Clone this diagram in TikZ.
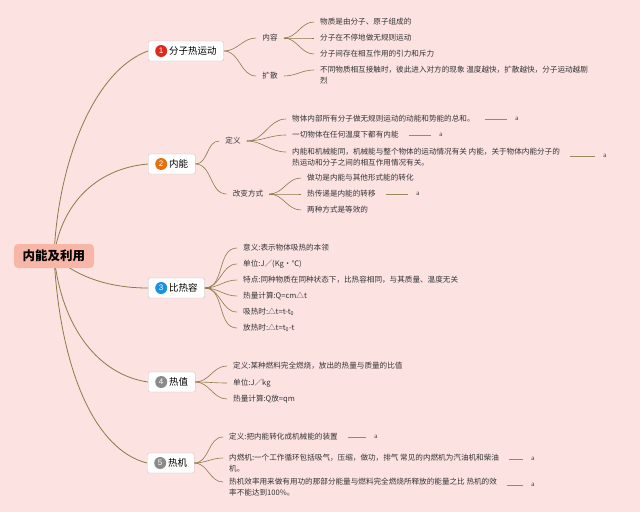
\documentclass[tikz,border=0pt]{standalone}
\usepackage{fontspec}
\setmainfont{Liberation Serif}
\newfontfamily\cjk{Noto Sans CJK SC}
\newfontfamily\numfont{Liberation Sans}
\usetikzlibrary{positioning}
\definecolor{PaperPink}{HTML}{FDE2E2}
\definecolor{RootSalmon}{HTML}{F8B6A6}
\definecolor{LinkOlive}{HTML}{8A7B48}
\definecolor{TagOlive}{HTML}{978C5E}
\definecolor{InkGrey}{HTML}{333333}
\definecolor{BadgeRed}{HTML}{DD2A1B}
\definecolor{BadgeOrange}{HTML}{E6700E}
\definecolor{BadgeBlue}{HTML}{1B8FE0}
\definecolor{BadgeGrey}{HTML}{8A8A8A}
\pgfdeclarelayer{links}
\pgfsetlayers{links,main}
% numbered badge in front of a topic
\newcommand{\topicnum}[2]{\tikz[baseline=-3.4pt]\node[circle, fill=#1, text=white, inner sep=0pt, minimum size=12pt, font=\numfont\fontsize{8}{8}\selectfont]{#2};\hspace{2pt}}

\begin{document}
\begin{tikzpicture}[x=1pt, y=-1pt,
  rootbox/.style={fill=RootSalmon, rounded corners=4pt, minimum width=80pt, minimum height=24pt, font=\cjk\fontsize{12.5}{14}\selectfont\bfseries},
  topicbox/.style={draw=gray!50, fill=white, rounded corners=1.5pt, minimum height=20pt, inner xsep=7pt, anchor=west, font=\cjk\fontsize{9.5}{11}\selectfont},
  sublabel/.style={inner xsep=6pt, inner ysep=1pt, text=InkGrey, font=\cjk\fontsize{7.6}{11}\selectfont},
  leaf/.style={anchor=west, inner xsep=6pt, inner ysep=1pt, align=left, text=InkGrey, font=\cjk\fontsize{7.6}{11}\selectfont},
  leaftwo/.style={leaf, anchor=north west},
  tagnote/.style={inner sep=1pt, text=InkGrey, font=\fontsize{7}{8}\selectfont},
  link/.style={draw=LinkOlive, line width=0.8pt},
  twig/.style={draw=LinkOlive, line width=0.6pt, out=0, in=180},
  tagline/.style={draw=TagOlive, line width=0.8pt, shorten <=4pt, shorten >=7pt}
]
  \begin{pgfonlayer}{links}
    \fill[PaperPink] (0,0) rectangle (640,512);
  \end{pgfonlayer}
  \useasboundingbox (0,0) rectangle (640,512);

  % Root and topics
  \node[rootbox] (root) at (54,256) {内能及利用};
  \node[topicbox] (motion) at (148,51) {\topicnum{BadgeRed}{1}分子热运动};
  \node[topicbox] (inner) at (148,164) {\topicnum{BadgeOrange}{2}内能};
  \node[topicbox] (spec) at (148,288) {\topicnum{BadgeBlue}{3}比热容};
  \node[topicbox] (fuel) at (148,382) {\topicnum{BadgeGrey}{4}热值};
  \node[topicbox] (engine) at (147,463) {\topicnum{BadgeGrey}{5}热机};

  \begin{pgfonlayer}{links}
    \draw[link] (root.center) .. controls (58,160) and (95,70) .. (motion.west);
    \draw[link] (root.center) .. controls (62,200) and (100,168) .. (inner.west);
    \draw[link] (root.center) .. controls (80,280) and (115,288) .. (spec.west);
    \draw[link] (root.center) .. controls (62,330) and (100,375) .. (fuel.west);
    \draw[link] (root.center) .. controls (60,370) and (95,450) .. (engine.west);
  \end{pgfonlayer}

  % 1 Molecular motion
  \node[sublabel] (cont) at (270,38) {内容};
  \node[sublabel] (diff) at (270,76) {扩散};
  \draw[twig] (motion.east) to (cont.west);
  \draw[twig] (motion.east) to (diff.west);
  \node[leaf] (c1) at (314,22) {物质是由分子、原子组成的};
  \node[leaf] (c2) at (314,38) {分子在不停地做无规则运动};
  \node[leaf] (c3) at (314,54) {分子间存在相互作用的引力和斥力};
  \node[leaftwo] (d1) at (314,65.2) {不同物质相互接触时，彼此进入对方的现象 温度越快，扩散越快，分子运动越剧\\烈};
  \foreach \leafname in {c1,c2,c3}
    \draw[twig] (cont.east) to (\leafname.west);
  \draw[twig] (diff.east) to ([yshift=-4.8pt]d1.north west);

  % 2 Internal energy
  \node[sublabel] (def) at (233,141) {定义};
  \node[sublabel] (way) at (248,194) {改变方式};
  \draw[twig] (inner.east) to (def.west);
  \draw[twig] (inner.east) to (way.west);
  \node[leaf] (e1) at (286,119) {物体内部所有分子做无规则运动的动能和势能的总和。};
  \node[leaf] (e2) at (286,135) {一切物体在任何温度下都有内能};
  \node[leaftwo] (e3) at (286,147.2) {内能和机械能同，机械能与整个物体的运动情况有关 内能，关于物体内能分子的\\热运动和分子之间的相互作用情况有关。};
  \draw[twig] (def.east) to (e1.west);
  \draw[twig] (def.east) to (e2.west);
  \draw[twig] (def.east) to ([yshift=-4.8pt]e3.north west);
  \node[tagnote] (ta1) at (517,119) {a};
  \node[tagnote] (ta2) at (441,135) {a};
  \node[tagnote] (ta3) at (605,156) {a};
  \draw[tagline] (e1.east |- ta1.west) -- (ta1.west);
  \draw[tagline] (e2.east |- ta2.west) -- (ta2.west);
  \draw[tagline] (e3.east |- ta3.west) -- (ta3.west);
  \node[leaf] (w1) at (301,178) {做功是内能与其他形式能的转化};
  \node[leaf] (w2) at (301,194) {热传递是内能的转移};
  \node[leaf] (w3) at (301,210) {两种方式是等效的};
  \foreach \leafname in {w1,w2,w3}
    \draw[twig] (way.east) to (\leafname.west);
  \node[tagnote] (ta4) at (418,194) {a};
  \draw[tagline] (w2.east |- ta4.west) -- (ta4.west);

  % 3 Specific heat
  \node[leaf] (s1) at (237,248) {意义:表示物体吸热的本领};
  \node[leaf] (s2) at (237,264) {单位:J／(Kg·℃)};
  \node[leaf] (s3) at (237,280) {特点:同种物质在同种状态下，比热容相同，与其质量、温度无关};
  \node[leaf] (s4) at (237,296) {热量计算:Q=cm△t};
  \node[leaf] (s5) at (237,312) {吸热时:△t=t-t\textsubscript{0}};
  \node[leaf] (s6) at (237,328) {放热时:△t=t\textsubscript{0}-t};
  \foreach \leafname in {s1,s2,s3,s4,s5,s6}
    \draw[twig] (spec.east) to (\leafname.west);

  % 4 Heat value
  \node[leaf] (f1) at (227,366) {定义:某种燃料完全燃烧，放出的热量与质量的比值};
  \node[leaf] (f2) at (227,383) {单位:J／kg};
  \node[leaf] (f3) at (227,399) {热量计算:Q放=qm};
  \foreach \leafname in {f1,f2,f3}
    \draw[twig] (fuel.east) to (\leafname.west);

  % 5 Heat engine
  \node[leaf] (g1) at (223,437) {定义:把内能转化成机械能的装置};
  \node[leaftwo] (g2) at (223,453.2) {内燃机:一个工作循环包括吸气，压缩，做功，排气 常见的内燃机为汽油机和柴油\\机。};
  \node[leaftwo] (g3) at (223,477.2) {热机效率用来做有用功的那部分能量与燃料完全燃烧所释放的能量之比 热机的效\\率不能达到100\%。};
  \draw[twig] (engine.east) to (g1.west);
  \draw[twig] (engine.east) to ([yshift=-4.8pt]g2.north west);
  \draw[twig] (engine.east) to ([yshift=-4.8pt]g3.north west);
  \node[tagnote] (tg1) at (376,437) {a};
  \node[tagnote] (tg2) at (533,459) {a};
  \node[tagnote] (tg3) at (533,485) {a};
  \draw[tagline] (g1.east |- tg1.west) -- (tg1.west);
  \draw[tagline] (g2.east |- tg2.west) -- (tg2.west);
  \draw[tagline] (g3.east |- tg3.west) -- (tg3.west);
\end{tikzpicture}
\end{document}
